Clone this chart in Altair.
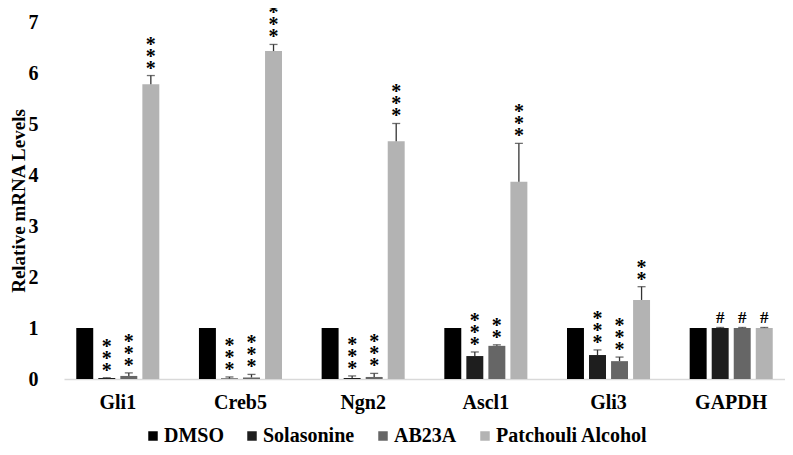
import altair as alt
import pandas as pd

genes = ["Gli1", "Creb5", "Ngn2", "Ascl1", "Gli3", "GAPDH"]
treatments = ["DMSO", "Solasonine", "AB23A", "Patchouli Alcohol"]
colors = ["#000000", "#1e1e1e", "#666666", "#b3b3b3"]

dmso_vals = [1.0, 1.0, 1.0, 1.0, 1.0, 1.0]
dmso_err = [0.0, 0.0, 0.0, 0.0, 0.0, 0.0]
dmso_sig = ["", "", "", "", "", ""]

sol_vals = [0.02, 0.01, 0.02, 0.45, 0.47, 1.0]
sol_err = [0.005, 0.03, 0.04, 0.08, 0.10, 0.01]
sol_sig = ["***", "***", "***", "***", "***", "#"]

ab_vals = [0.06, 0.03, 0.04, 0.65, 0.35, 1.0]
ab_err = [0.06, 0.06, 0.07, 0.02, 0.08, 0.01]
ab_sig = ["***", "***", "***", "**", "***", "#"]

pa_vals = [5.78, 6.43, 4.66, 3.87, 1.55, 1.0]
pa_err = [0.17, 0.13, 0.35, 0.75, 0.26, 0.01]
pa_sig = ["***", "***", "***", "***", "**", "#"]

series = [
    ("DMSO", dmso_vals, dmso_err, dmso_sig),
    ("Solasonine", sol_vals, sol_err, sol_sig),
    ("AB23A", ab_vals, ab_err, ab_sig),
    ("Patchouli Alcohol", pa_vals, pa_err, pa_sig),
]

rows = []
for t, vals, errs, sigs in series:
    for i, g in enumerate(genes):
        s = sigs[i]
        n = s.count("*")
        rows.append({
            "gene": g,
            "treatment": t,
            "value": vals[i],
            "err": errs[i],
            "top": vals[i] + errs[i],
            "nstars": n,
            "stars": "\n".join(["*"] * n),
            "hash": s if s == "#" else "",
        })
df = pd.DataFrame(rows)

FONT = "Liberation Serif"

x = alt.X(
    "gene:N", sort=genes,
    scale=alt.Scale(paddingInner=0.323, paddingOuter=0.1),
    axis=alt.Axis(title=None, labelAngle=0, labelFont=FONT, labelFontSize=20,
                  labelFontWeight="bold", labelColor="#000000",
                  domainColor="#d9d9d9", domainWidth=1.5, ticks=False,
                  labelPadding=13),
)
xo = alt.XOffset("treatment:N", sort=treatments,
                 scale=alt.Scale(paddingInner=0.23, paddingOuter=0))
y = alt.Y(
    "value:Q",
    scale=alt.Scale(domain=[0, 7]),
    axis=alt.Axis(values=list(range(8)), grid=False, domain=False, ticks=False,
                  title="Relative mRNA Levels", titleFont=FONT, titleFontSize=19,
                  titleFontWeight="bold", titleColor="#000000", titlePadding=0,
                  labelFont=FONT, labelFontSize=20, labelFontWeight="bold",
                  labelColor="#000000", labelPadding=26),
)
color = alt.Color(
    "treatment:N", sort=treatments,
    scale=alt.Scale(domain=treatments, range=colors),
    legend=alt.Legend(orient="none", legendX=79, legendY=404, direction="horizontal",
                      title=None, symbolType="square", symbolSize=90,
                      symbolStrokeWidth=0, labelFont=FONT, labelFontSize=20,
                      labelFontWeight="bold", labelColor="#000000",
                      columnPadding=18, labelOffset=1, padding=0),
)

base = alt.Chart(df)

bars = base.mark_bar().encode(x=x, xOffset=xo, y=y, color=color)

err_rule = base.transform_filter("datum.err > 0").mark_rule(
    color="#333333", strokeWidth=1.3
).encode(x=x, xOffset=xo, y="value:Q", y2="top:Q")

cap = base.transform_filter("datum.err > 0").mark_tick(
    color="#333333", size=8, thickness=1.3, orient="horizontal"
).encode(x=x, xOffset=xo, y="top:Q")

star_layers = []
for n in (2, 3):
    star_layers.append(
        base.transform_filter(f"datum.nstars == {n}").mark_text(
            font=FONT, fontSize=20, fontWeight="bold", color="#000000",
            baseline="alphabetic", lineBreak="\n", lineHeight=12,
            dy=-1 - 12 * (n - 1)
        ).encode(x=x, xOffset=xo, y="top:Q", text="stars:N")
    )

hashes = base.transform_filter("datum.hash != ''").mark_text(
    font=FONT, fontSize=17, fontWeight="bold", color="#000000",
    baseline="alphabetic", dy=-4
).encode(x=x, xOffset=xo, y="top:Q", text="hash:N")

chart = alt.layer(bars, err_rule, cap, *star_layers, hashes).properties(
    width=721, height=357,
    autosize=alt.AutoSizeParams(type="none"),
    padding={"left": 56, "top": 14, "right": 0, "bottom": 68},
    background="#ffffff",
).configure_view(stroke=None)

chart.save("out.html", embed_options={"renderer": "svg", "actions": False})
